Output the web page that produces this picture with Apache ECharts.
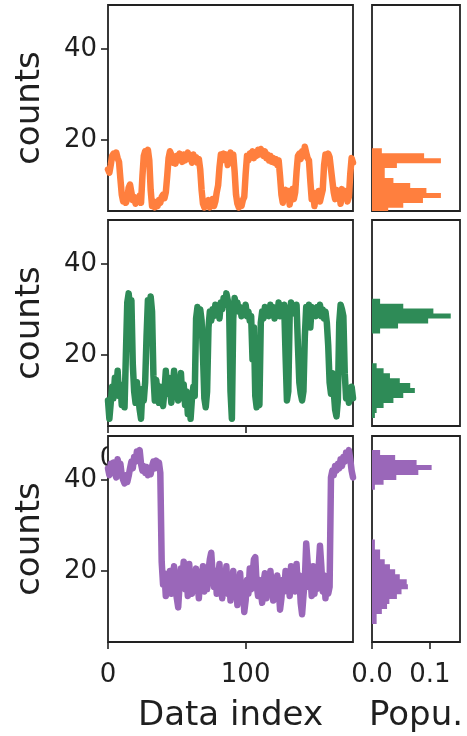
<!DOCTYPE html>
<html>
<head>
<meta charset="utf-8">
<script src="https://cdn.jsdelivr.net/npm/echarts@6/dist/echarts.min.js"></script>
<style>
  html, body { margin: 0; padding: 0; background: #fff; }
  #chart { width: 467px; height: 736px; }
</style>
</head>
<body>
<div id="chart"></div>
<script>
// Time traces, one value per data index (0 .. 178)
const orangeCounts = [
  13.5,12.8,14.5,16.5,17.0,16.2,17.2,16.0,15.2,11.5, 8.0,6.5,7.8,6.2,7.0,9.5,10.2,8.5,6.8,7.5,
  6.0,7.2,6.5,7.8,6.2,12.0,16.5,17.5,16.8,17.8, 15.5,9.0,5.5,6.5,5.2,6.0,5.5,6.8,6.2,7.5,
  8.0,7.2,8.5,12.0,16.0,17.5,16.8,15.0,16.2,14.8, 16.5,15.5,17.0,16.0,15.2,16.8,15.5,16.2,17.2,15.8,
  16.5,15.0,16.8,15.5,16.2,15.0,15.8,13.5,9.0,6.0, 5.2,6.5,5.5,6.8,5.2,6.0,7.0,5.5,6.5,8.5,
  10.0,14.0,16.8,15.5,17.0,16.0,16.8,14.5,16.2,17.2, 16.0,16.8,13.0,8.0,6.0,5.2,6.5,5.5,6.8,7.5,
  12.5,16.5,15.5,17.0,16.2,17.5,16.0,17.2,16.5,17.8, 16.8,18.0,17.2,16.5,17.5,16.0,16.8,15.5,16.5,15.2,
  16.0,15.0,15.8,14.5,15.5,12.0,8.0,6.2,8.5,9.0, 7.5,8.8,5.8,8.2,9.2,7.0,8.5,13.0,16.5,17.0,
  15.8,17.5,16.5,18.5,17.2,16.0,15.5,11.0,7.0,8.5, 5.5,8.0,7.2,8.8,6.5,7.8,9.0,14.5,16.8,15.5,
  17.0,16.2,15.8,11.0,8.5,7.0,9.0,7.5,8.2,6.0, 9.2,8.0,7.2,8.8,6.5,7.5,12.5,16.0,15.0
];
const greenCounts = [
  10.0,6.0,9.5,13.0,10.5,15.0,12.0,16.5,11.0,13.5, 9.0,12.5,8.5,20.0,31.5,33.5,30.5,32.0,18.0,12.0,
  9.5,14.0,11.0,8.0,6.0,12.5,10.0,14.0,24.0,32.0, 30.5,32.8,29.5,15.5,10.0,14.5,12.0,9.5,13.0,10.5,
  8.8,12.0,16.5,11.5,15.0,13.0,9.5,12.5,16.5,11.0, 14.0,10.0,12.8,16.0,10.5,13.5,9.0,12.0,7.0,11.5,
  6.0,10.5,13.0,11.0,28.0,30.5,29.0,30.0,27.5,20.0, 10.5,8.5,12.0,26.0,29.5,27.5,30.0,28.5,31.0,29.0,
  30.5,28.0,31.5,30.0,32.5,31.0,33.5,32.0,30.5,12.0, 6.0,28.0,32.5,30.0,31.5,29.5,30.5,28.5,30.0,29.0,
  31.0,28.5,29.5,27.5,28.5,19.0,26.0,11.0,8.5,10.0, 9.0,27.0,29.5,28.0,30.5,29.0,30.0,28.5,31.0,29.5,
  30.5,28.0,30.0,29.0,31.5,28.5,30.0,29.5,31.0,20.0, 10.0,12.0,29.0,31.5,30.0,30.5,29.0,31.0,22.0,14.0,
  11.5,10.0,12.0,24.0,30.5,29.0,31.0,26.0,30.5,29.0, 30.0,28.5,30.5,29.0,31.0,28.5,30.0,28.0,29.5,27.0,
  22.0,14.0,11.5,16.0,12.0,8.0,6.5,10.0,27.0,31.0, 30.0,28.5,16.0,10.5,12.5,9.5,11.0,13.0,10.5
];
const purpleCounts = [
  42.5,41.0,43.5,42.0,43.8,41.5,40.5,44.5,42.8,43.5, 41.0,40.0,39.2,41.0,39.5,40.8,42.5,44.0,42.5,45.0,
  44.0,46.2,45.0,46.5,43.5,42.0,43.0,41.5,42.8,41.0, 42.5,41.2,43.0,44.0,42.5,44.2,43.0,43.8,41.5,22.0,
  17.0,19.5,14.5,18.0,16.0,20.0,15.0,18.5,21.0,16.5, 14.0,12.0,17.0,20.5,18.0,22.0,16.0,19.0,14.5,21.5,
  17.5,15.0,19.5,16.5,20.5,18.0,14.0,19.0,17.0,21.0, 15.5,18.5,16.0,20.0,22.5,24.0,19.5,16.5,20.0,15.0,
  18.5,21.5,16.0,14.0,19.0,16.5,21.0,15.0,18.5,13.5, 17.0,20.0,15.5,18.0,12.5,16.0,19.5,14.0,17.0,11.0,
  13.5,18.0,15.0,20.5,16.0,19.0,22.5,23.0,17.0,14.5, 18.0,15.5,13.0,17.5,19.5,14.0,18.0,15.5,20.0,16.5,
  13.5,18.5,15.0,19.0,16.0,11.5,14.0,18.0,15.5,20.0, 16.5,18.5,14.5,21.0,17.0,19.5,15.5,21.5,16.0,19.0,
  13.0,10.5,14.5,18.0,26.0,22.0,16.5,19.5,14.5,21.0, 15.0,18.5,16.0,20.5,25.5,21.0,15.5,19.0,14.0,18.0,
  15.0,16.5,40.5,42.0,41.0,43.0,42.0,43.5,42.5,44.5, 43.0,45.0,44.0,46.0,45.0,46.5,44.5,42.0,40.5
];

// Population histograms: density per bin, bin k spans [binStart + k*binWidth, binStart + (k+1)*binWidth]
const binStart = 4.0;
const binWidth = 1.09;
const orangeDensity = [
  0.028,0.054,0.088,0.119,0.094,0.066,0.037,0.022,0.022,0.043,
  0.119,0.090,0.017
];
const greenDensity = [
  0,0,0.005,0.008,0.020,0.037,0.054,0.074,0.066,0.048,
  0.031,0.020,0.008,0,0,0,0,0,0,0.014,
  0.045,0.097,0.136,0.106,0.054,0.014
];
const purpleDensity = [
  0,0,0,0,0.008,0.008,0.017,0.026,0.030,0.043,
  0.051,0.062,0.060,0.048,0.040,0.031,0.022,0.014,0.014,0.005,
  0.005,0,0,0,0,0,0,0,0,0,
  0,0.005,0.020,0.042,0.080,0.103,0.077,0.040,0.014
];

const indexTicks = [0, 100];
const countTicks = [20, 40];
const popTicks = [0, 0.1];
const popTickLabels = ['0.0', '0.1'];

const traces = [
  { counts: orangeCounts, density: orangeDensity, color: '#ff7f3e' },
  { counts: greenCounts,  density: greenDensity,  color: '#2e8b57' },
  { counts: purpleCounts, density: purpleDensity, color: '#9a67b9' }
];

const FONT = 'DejaVu Sans';
const INK = '#222';
const TEXT = '#1f1f1f';
const rowTops = [5, 220, 436];
const rowHeight = 206;
const mainLeft = 108, mainWidth = 245;
const histLeft = 372, histWidth = 88;
const yMin = 4.4, yMax = 49.6;

const grid = [], xAxis = [], yAxis = [], series = [];

traces.forEach((tr, r) => {
  const zBase = 10 * r;
  const last = r === traces.length - 1;
  const showIndexTicks = r > 0;

  // trace panel
  grid.push({
    left: mainLeft, top: rowTops[r], width: mainWidth, height: rowHeight,
    show: true, backgroundColor: '#fff', borderColor: INK, borderWidth: 1.8,
    containLabel: false, z: zBase + 1
  });
  // population panel
  grid.push({
    left: histLeft, top: rowTops[r], width: histWidth, height: rowHeight,
    show: true, backgroundColor: '#fff', borderColor: INK, borderWidth: 1.8,
    containLabel: false, z: zBase + 1
  });

  const gMain = 2 * r, gHist = 2 * r + 1;

  xAxis.push({
    type: 'value', gridIndex: gMain, min: 0, max: 178, z: zBase + 2,
    axisLine: { show: false },
    splitLine: { show: false },
    axisTick: { show: showIndexTicks, length: 7, lineStyle: { color: INK, width: 1.6 }, customValues: indexTicks },
    axisLabel: { show: showIndexTicks, margin: 20, fontFamily: FONT, fontSize: 26, color: TEXT, customValues: indexTicks },
    name: last ? 'Data index' : '',
    nameLocation: 'middle', nameGap: 57,
    nameTextStyle: { fontFamily: FONT, fontSize: 34, color: TEXT }
  });
  xAxis.push({
    type: 'value', gridIndex: gHist, min: 0, max: 0.152, z: zBase + 2,
    axisLine: { show: false },
    splitLine: { show: false },
    splitArea: { show: false },
    axisTick: { show: last, length: 7, lineStyle: { color: INK, width: 1.6 }, customValues: popTicks },
    axisLabel: {
      show: last, margin: 20, fontFamily: FONT, fontSize: 26, color: TEXT,
      customValues: popTicks,
      formatter: v => popTickLabels[popTicks.indexOf(v)] ?? String(v)
    },
    name: last ? 'Popu.' : '',
    nameLocation: 'middle', nameGap: 57,
    nameTextStyle: { fontFamily: FONT, fontSize: 34, color: TEXT }
  });

  yAxis.push({
    type: 'value', gridIndex: gMain, min: yMin, max: yMax, z: zBase + 2,
    axisLine: { show: false },
    splitLine: { show: false },
    axisTick: { show: true, length: 7, lineStyle: { color: INK, width: 1.6 }, customValues: countTicks },
    axisLabel: { show: true, margin: 11, fontFamily: FONT, fontSize: 26, color: TEXT, customValues: countTicks },
    name: 'counts', nameLocation: 'middle', nameGap: 61,
    nameTextStyle: { fontFamily: FONT, fontSize: 34, color: TEXT }
  });
  yAxis.push({
    type: 'value', gridIndex: gHist, min: yMin, max: yMax, z: zBase + 2,
    axisLine: { show: false },
    splitLine: { show: false },
    splitArea: { show: false },
    axisTick: { show: false },
    axisLabel: { show: false }
  });

  series.push({
    type: 'line', xAxisIndex: gMain, yAxisIndex: gMain, z: zBase + 3,
    data: tr.counts.map((v, i) => [i, v]),
    showSymbol: false, symbol: 'none', smooth: false, clip: true,
    lineStyle: { color: tr.color, width: 6.5, cap: 'round', join: 'round' }
  });

  // step-filled histogram drawn as one outline through the axis scales
  const bins = tr.density.map((d, k) => [binStart + k * binWidth, binStart + (k + 1) * binWidth, d]);
  series.push({
    type: 'custom', xAxisIndex: gHist, yAxisIndex: gHist, z: zBase + 5, clip: true,
    data: [[0, binStart]],
    encode: { x: 0, y: 1 },
    renderItem: (params, api) => {
      const pts = [api.coord([0, bins[0][0]])];
      bins.forEach(([lo, hi, d]) => {
        pts.push(api.coord([d, lo]));
        pts.push(api.coord([d, hi]));
      });
      pts.push(api.coord([0, bins[bins.length - 1][1]]));
      return {
        type: 'polygon',
        shape: { points: pts },
        style: { fill: tr.color }
      };
    }
  });
});

const chart = echarts.init(document.getElementById('chart'), null, { renderer: 'canvas' });
chart.setOption({
  animation: false,
  backgroundColor: '#fff',
  grid, xAxis, yAxis, series
});
</script>
</body>
</html>
